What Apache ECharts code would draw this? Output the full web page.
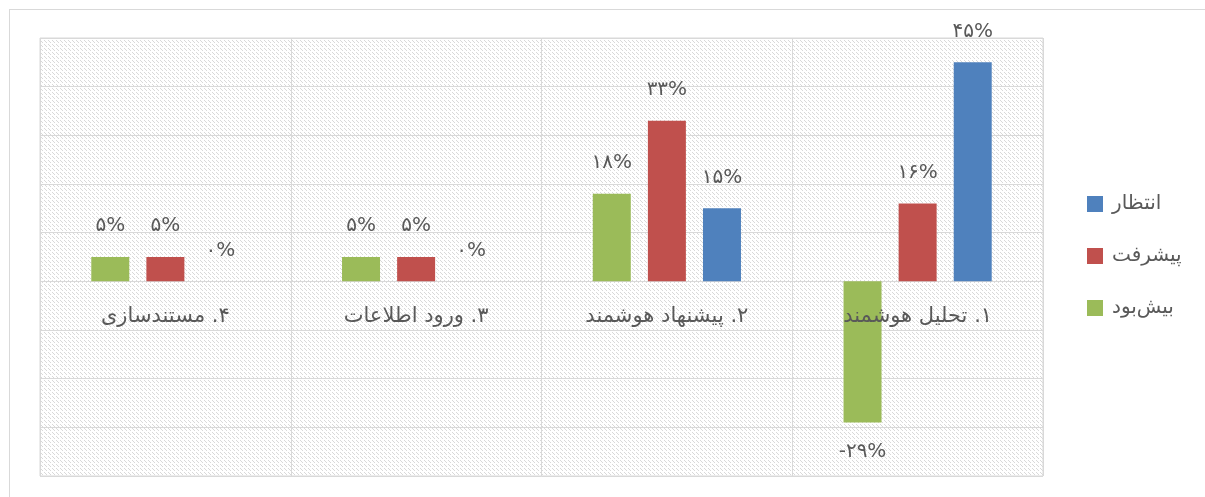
<!DOCTYPE html>
<html lang="fa">
<head>
<meta charset="utf-8">
<script src="https://cdn.jsdelivr.net/npm/echarts@6/dist/echarts.min.js"></script>
<style>
  html, body { margin: 0; padding: 0; background: #fff; }
  #frame { position: absolute; left: 9px; top: 9px; width: 1300px; height: 600px; border: 1px solid #d9d9d9; }
  #chart { position: absolute; left: 0; top: 0; width: 1205px; height: 497px; }
</style>
</head>
<body>
<div id="frame"></div>
<div id="chart"></div>
<script>
// categories (first one sits on the right)
var categories = ["۱. تحلیل هوشمند", "۲. پیشنهاد هوشمند", "۳. ورود اطلاعات", "۴. مستندسازی"];
// series values in percent
var expected = [45, 15, 0, 0];      // انتظار
var progress = [16, 33, 5, 5];      // پیشرفت
var overrun = [-29, 18, 5, 5];      // بیش‌بود
var seriesNames = ["انتظار", "پیشرفت", "بیش‌بود"];
var colors = ["#4f81bd", "#c0504d", "#9bbb59"];

var faDigits = "۰۱۲۳۴۵۶۷۸۹";
function toFa(n) {
  return String(n).replace(/[0-9]/g, function (d) { return faDigits[+d]; });
}

function makeData(arr) {
  return arr.map(function (v) {
    if (v < 0) {
      return { value: v, label: { position: "bottom", distance: 19 } };
    }
    return v;
  });
}

// dashed downward-diagonal hatch like the office chart
var tile = document.createElement("canvas");
tile.width = 8;
tile.height = 8;
var tctx = tile.getContext("2d");
tctx.fillStyle = "#ffffff";
tctx.fillRect(0, 0, 8, 8);
tctx.fillStyle = "#d9d9d9";
for (var ty = 0; ty < 8; ty++) {
  for (var tx = 0; tx < 8; tx++) {
    if ((tx - ty + 16) % 4 === 0 && ty % 4 < 3) tctx.fillRect(tx, ty, 1, 1);
  }
}

var font = "DejaVu Sans";
var labelCfg = {
  show: true,
  position: "top",
  distance: 21,
  color: "#595959",
  fontFamily: font,
  fontSize: 20,
  formatter: function (p) { return toFa(p.value) + "%"; }
};

function bar(name, arr, color) {
  return {
    name: name,
    type: "bar",
    data: makeData(arr),
    barWidth: 38,
    barGap: "45%",
    itemStyle: { color: color },
    label: labelCfg
  };
}

var chart = echarts.init(document.getElementById("chart"), null, { renderer: "canvas" });
chart.setOption({
  animation: false,
  textStyle: { fontFamily: font },
  grid: {
    left: 40,
    right: 162,
    top: 38,
    bottom: 21,
    outerBoundsMode: "none",
    containLabel: false,
    show: true,
    borderColor: "#d9d9d9",
    borderWidth: 1,
    backgroundColor: { image: tile, repeat: "repeat" }
  },
  legend: {
    orient: "vertical",
    left: 1082,
    top: 189,
    itemWidth: 16,
    itemHeight: 16,
    itemGap: 32,
    icon: "rect",
    data: seriesNames,
    textStyle: { color: "#595959", fontSize: 20, fontFamily: font, padding: [0, 0, 0, 4] }
  },
  xAxis: {
    type: "category",
    inverse: true,
    data: categories,
    z: 5,
    position: "bottom",
    offset: -195,
    axisLine: { show: false, onZero: false },
    axisTick: { show: false },
    splitLine: { show: true, lineStyle: { color: "#d9d9d9", width: 1 } },
    axisLabel: {
      color: "#595959",
      fontSize: 21,
      fontFamily: font,
      margin: 25,
      formatter: function (v) { return "\u200F" + v; }
    }
  },
  yAxis: {
    type: "value",
    min: -40,
    max: 50,
    interval: 10,
    axisLabel: { show: false },
    axisLine: { show: false },
    axisTick: { show: false },
    splitLine: { show: true, lineStyle: { color: "#d9d9d9", width: 1 } }
  },
  // first series is drawn leftmost in each group
  series: [
    bar(seriesNames[2], overrun, colors[2]),
    bar(seriesNames[1], progress, colors[1]),
    bar(seriesNames[0], expected, colors[0])
  ]
});
</script>
</body>
</html>
